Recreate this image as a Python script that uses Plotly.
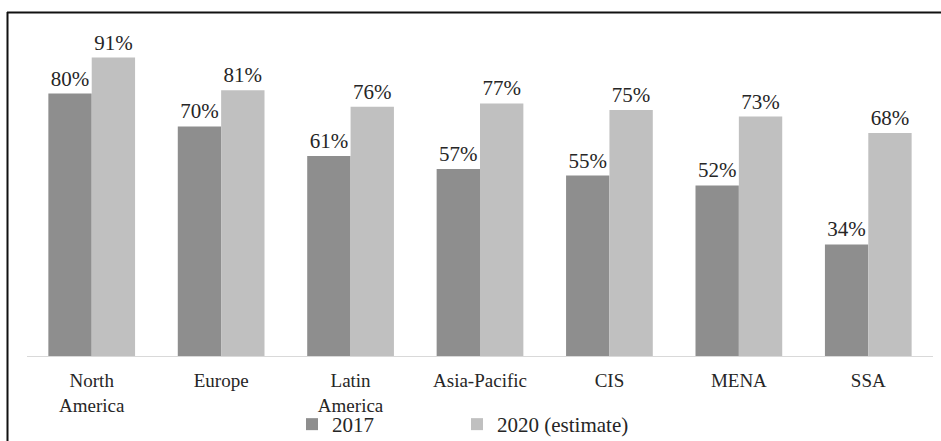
import plotly.graph_objects as go

categories = ["North<br>America", "Europe", "Latin<br>America", "Asia-Pacific", "CIS", "MENA", "SSA"]
values_2017 = [80, 70, 61, 57, 55, 52, 34]
values_2020 = [91, 81, 76, 77, 75, 73, 68]
series_names = ["2017", "2020 (estimate)"]
colors = ["#8e8e8e", "#c0c0c0"]
legend_ids = ["legend", "legend2"]

FONT = "Liberation Serif, Times New Roman, serif"

fig = go.Figure()
for name, vals, col, lg in zip(series_names, [values_2017, values_2020], colors, legend_ids):
    fig.add_trace(go.Bar(
        x=categories, y=vals, name=name, legend=lg,
        marker=dict(color=col, line=dict(width=0)),
        text=[f"{v}%" for v in vals],
        textposition="outside",
        textfont=dict(family=FONT, size=21, color="#262626"),
        cliponaxis=False,
    ))

W, H = 941, 441
L, R, T, B = 27, 8, 28, 85
pw, ph = W - L - R, H - T - B

def px_to_paper_x(px):
    return (px - L) / pw

def px_to_paper_y(py):
    return (H - B - py) / ph

legend_common = dict(orientation="h", xanchor="left",
                     y=px_to_paper_y(404), yanchor="top",
                     font=dict(family=FONT, size=21, color="#262626"),
                     itemwidth=30, bgcolor="rgba(0,0,0,0)")

fig.update_layout(
    width=W, height=H,
    margin=dict(l=L, r=R, t=T, b=B, autoexpand=False),
    paper_bgcolor="white", plot_bgcolor="white",
    barmode="group", bargap=0.33, bargroupgap=0,
    font=dict(family=FONT, size=21, color="#262626"),
    showlegend=True,
    legend=dict(x=px_to_paper_x(292), **legend_common),
    legend2=dict(x=px_to_paper_x(457), **legend_common),
    xaxis=dict(showline=True, linecolor="#d9d9d9", linewidth=1, ticks="",
               tickfont=dict(family=FONT, size=19, color="#262626"),
               ticklabelstandoff=7, showgrid=False, zeroline=False,
               automargin=False),
    yaxis=dict(range=[0, 100], visible=False, showgrid=False, zeroline=False),
)

# outer frame (left and top edges)
fig.add_shape(type="line", xref="paper", yref="paper",
              x0=px_to_paper_x(7.5), x1=px_to_paper_x(7.5),
              y0=px_to_paper_y(12), y1=px_to_paper_y(445),
              line=dict(color="#111111", width=2))
fig.add_shape(type="line", xref="paper", yref="paper",
              x0=px_to_paper_x(7), x1=px_to_paper_x(945),
              y0=px_to_paper_y(12.5), y1=px_to_paper_y(12.5),
              line=dict(color="#111111", width=2))

fig.write_html("out.html")
